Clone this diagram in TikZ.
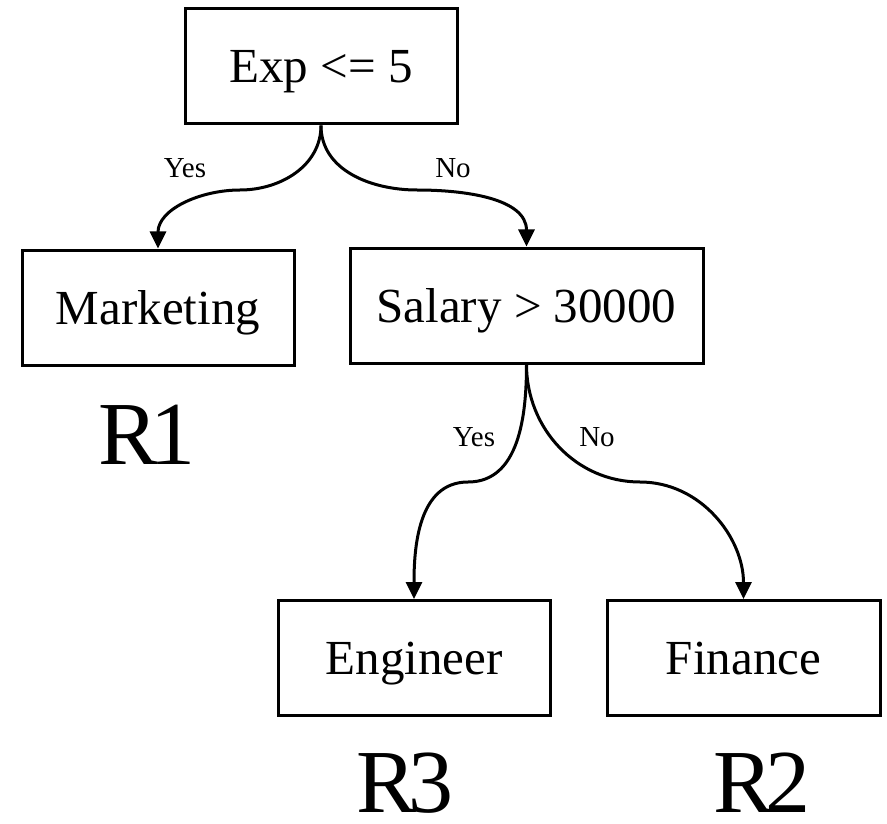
\documentclass[tikz,border=0pt]{standalone}
\usepackage{fontspec}
\setmainfont{Liberation Serif}
\usetikzlibrary{arrows.meta}
\begin{document}
\begin{tikzpicture}[x=1pt,y=-1pt,
  box/.style={draw, line width=3pt, inner sep=0pt, minimum height=115pt,
    text height=35pt, text depth=2pt,
    font=\fontsize{49}{55}\selectfont},
  edge/.style={line width=3pt, -{Triangle[length=17pt,width=16pt]}},
  lbl/.style={inner sep=0pt, font=\fontsize{29}{33}\selectfont},
  region/.style={inner sep=0pt, text depth=0pt, font=\fontsize{90}{100}\selectfont}]
\useasboundingbox (0,0) rectangle (887,824);

% decision and leaf boxes
\node[box, minimum width=272pt] (root) at (321,66.5) {Exp <= 5};
\node[box, minimum width=272pt] (mkt) at (158,307.5) {Marketing};
\node[box, minimum width=353pt] (sal) at (526.5,305.5) {Salary > 30000};
\node[box, minimum width=272pt] (eng) at (414,658) {Engineer};
\node[box, minimum width=273pt] (fin) at (743.5,658) {Finance};

% turning points of the S-shaped connectors
\coordinate (ry) at (240,190);
\coordinate (rn) at (417,190);
\coordinate (sy) at (468,482);
\coordinate (sn) at (640,482);

\draw[edge] (root.south) to[out=-90,in=0] (ry) to[out=180,in=90] (mkt.north);
\draw[edge] (root.south) to[out=-90,in=180] (rn) to[out=0,in=90] (sal.north);
\draw[edge] (sal.south) to[out=-90,in=0] (sy) to[out=180,in=90] (eng.north);
\draw[edge] (sal.south) to[out=-90,in=180] (sn) to[out=0,in=90] (fin.north);

% branch labels
\node[lbl] (l1) at (185,168) {Yes};
\node[lbl] (l2) at (453,168) {No};
\node[lbl] (l3) at (474,437) {Yes};
\node[lbl] (l4) at (597,437) {No};

% region names
\node[region] (r1) at (147,435) {R\kern-0.1em1};
\node[region] (r3) at (405,783) {R\kern-0.1em3};
\node[region] (r2) at (762,783) {R\kern-0.1em2};
\end{tikzpicture}
\end{document}
